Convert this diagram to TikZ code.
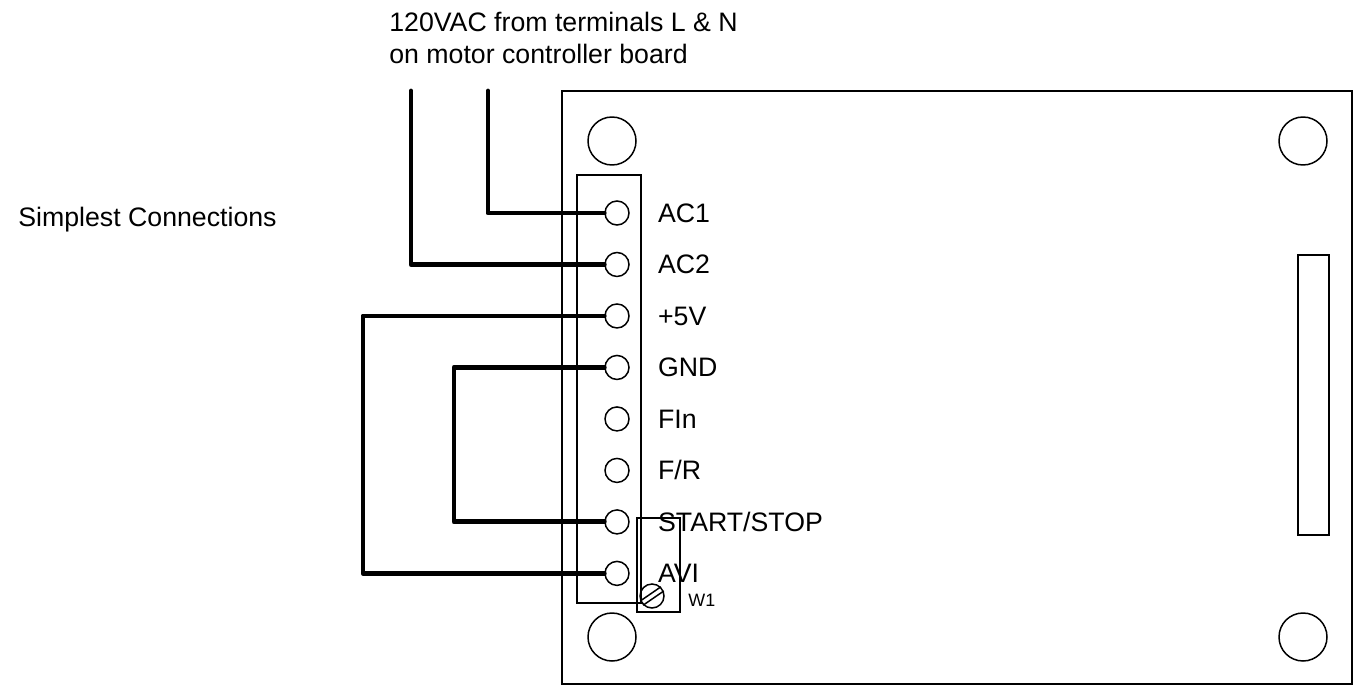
\documentclass[tikz,border=0pt]{standalone}
\usepackage{fontspec}
\setmainfont{Liberation Sans}
\usetikzlibrary{positioning}

\begin{document}
\begin{tikzpicture}[x=0.02cm, y=-0.02cm,
                  board/.style={draw, line width=0.85pt},
                  hole/.style={circle, draw, line width=0.85pt, inner sep=0pt,
                    minimum size=0.96cm},
                  term/.style={circle, draw, line width=0.85pt, inner sep=0pt,
                    minimum size=0.48cm},
                  lbl/.style={font=\fontsize{15.2}{18}\selectfont, inner sep=0pt,
                    text height=0.37cm, text depth=0pt},
                  wire/.style={line width=2.8pt, line join=round, line cap=round},
                  node distance=0.52cm
                  ]
                  \useasboundingbox (0,0) rectangle (1355,686);

                  % board outline, mounting holes and slot
                  \draw[board] (562,91) rectangle (1352,684);
                  \node[hole] (h1) at (612,141) {};
                  \node[hole] (h2) at (1303,141) {};
                  \node[hole] (h3) at (612,637) {};
                  \node[hole] (h4) at (1303,637) {};
                  \draw[board] (1298,255) rectangle (1329,535);

                  % terminal strip
                  \draw[board] (577,175) rectangle (641,603);
                  \node[term] (t1) at (617,213) {};
                  \node[term] (t2) [below=of t1] {};
                  \node[term] (t3) [below=of t2] {};
                  \node[term] (t4) [below=of t3] {};
                  \node[term] (t5) [below=of t4] {};
                  \node[term] (t6) [below=of t5] {};
                  \node[term] (t7) [below=of t6] {};
                  \node[term] (t8) [below=of t7] {};

                  \node[lbl] (l1) [right=0.56cm of t1] {AC1};
                  \node[lbl] (l2) [right=0.56cm of t2] {AC2};
                  \node[lbl] (l3) [right=0.56cm of t3] {+5V};
                  \node[lbl] (l4) [right=0.56cm of t4] {GND};
                  \node[lbl] (l5) [right=0.56cm of t5] {FIn};
                  \node[lbl] (l6) [right=0.56cm of t6] {F/R};
                  \node[lbl] (l7) [right=0.56cm of t7] {START/STOP};
                  \node[lbl] (l8) [right=0.56cm of t8] {AVI};

                  % trimmer W1
                  \draw[board] (637,518) rectangle (680,612);
                  \node[term] (screw) at (652,596) {};
                  \draw[line width=0.85pt] (screw.46) -- (screw.203);
                  \draw[line width=0.85pt] (screw.226) -- (screw.23);
                  \node[font=\fontsize{10.2}{12}\selectfont, inner sep=0pt, anchor=base west]
                    (w1) at (688,606) {W1};

                  % wiring
                  \coordinate (lineL) at (411,91);
                  \coordinate (lineN) at (488,91);
                  \coordinate (loopA) at (363,0);
                  \coordinate (loopB) at (454,0);
                  \draw[wire] (t1.west) -| (lineN);
                  \draw[wire] (t2.west) -| (lineL);
                  \draw[wire] (t3.west) -- (t3.west -| loopA) -- (t8.west -| loopA) -- (t8.west);
                  \draw[wire] (t4.west) -- (t4.west -| loopB) -- (t7.west -| loopB) -- (t7.west);

                  % captions
                  \node[font=\fontsize{15.2}{18}\selectfont, inner sep=0pt, anchor=base east]
                    (title) at (277,226) {Simplest Connections};
                  \node[font=\fontsize{15.2}{18.2}\selectfont, inner sep=0pt, anchor=north west,
                    align=left] (supply) at (389,12)
                    {120VAC from terminals L \& N\\on motor controller board};
                \end{tikzpicture}
\end{document}
